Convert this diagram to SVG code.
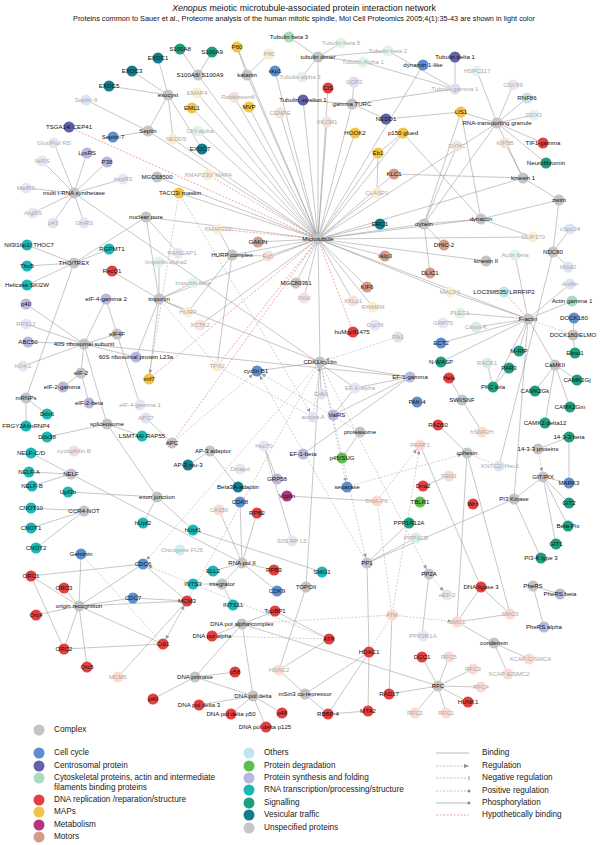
<svg xmlns="http://www.w3.org/2000/svg" width="600" height="845" viewBox="0 0 600 845">
<defs>
<style>
text{font-family:"Liberation Sans",Arial,sans-serif}
.e{stroke:#8e8e8e;stroke-width:.5;fill:none}
.d{stroke:#a0a0a0;stroke-width:.5;stroke-dasharray:2 1.5;fill:none}
.h{stroke:#e06060;stroke-width:.55;stroke-dasharray:2 1.5;fill:none}
.r{marker-end:url(#arr)}
.n text{font-size:6.1px;text-anchor:middle;fill:#111}
.n.L text{fill:#a8a8a8}
.cx circle,.un circle{fill:#c4c4c4}
.cc circle{fill:#5d8fcf}.cc.L circle{fill:#dce5f3}
.ce circle{fill:#6262aa}.ce.L circle{fill:#dedef0}
.cy circle{fill:#a8dcc0}.cy.L circle{fill:#e2f3e8}
.dn circle{fill:#e2403f}.dn.L circle{fill:#fadad1}
.mp circle{fill:#f2c443}.mp.L circle{fill:#fbeed2}
.me circle{fill:#b8347a}.me.L circle{fill:#f4dbe6}
.mo circle{fill:#d39c8a}.mo.L circle{fill:#f4e3dc}
.ot circle{fill:#bfe6ec}.ot.L circle{fill:#e4f5f7}
.pd circle{fill:#5cbf4e}
.ps circle{fill:#b8b8de}.ps.L circle{fill:#e6e6f5}
.rn circle{fill:#1bb6b6}.rn.L circle{fill:#d2efef}
.sg circle{fill:#1d9e7c}.sg.L circle{fill:#d8ede5}
.ve circle{fill:#137c8e}
.lg text{font-size:8.2px;fill:#222;dominant-baseline:middle}
</style>
<marker id="arr" markerUnits="userSpaceOnUse" markerWidth="4" markerHeight="4" viewBox="0 0 4 4" refX="9.5" refY="2" orient="auto"><path d="M0 0L4 2L0 4z" fill="#9a9a9a"/></marker>
<marker id="arrL" markerUnits="userSpaceOnUse" markerWidth="5" markerHeight="4" viewBox="0 0 5 4" refX="5" refY="2" orient="auto"><path d="M0 0L5 2L0 4z" fill="#8a8a8a"/></marker>
<marker id="bar" markerUnits="userSpaceOnUse" markerWidth="2" markerHeight="5" viewBox="0 0 2 5" refX="1" refY="2.5" orient="auto"><path d="M1 0V5" stroke="#8a8a8a" stroke-width=".8"/></marker>
<marker id="dot" markerUnits="userSpaceOnUse" markerWidth="4" markerHeight="4" viewBox="0 0 4 4" refX="2" refY="2" orient="auto"><circle cx="2" cy="2" r="1.5" fill="#8a8a8a"/></marker>
</defs>
<rect width="600" height="845" fill="#fff"/>
<text x="304" y="11" text-anchor="middle" font-size="8.8" fill="#111"><tspan font-style="italic">Xenopus</tspan> meiotic microtubule-associated protein interaction network</text>
<text x="304" y="21" text-anchor="middle" font-size="6.3" fill="#111" textLength="462" lengthAdjust="spacingAndGlyphs">Proteins common to Sauer et al., Proteome analysis of the human mitotic spindle, Mol Cell Proteomics 2005;4(1):35-43 are shown in light color</text>
<g id="connectors">
<path class="e" d="M180 49L198 75M212 52L198 75M158 58L168 95M132 71L168 95M109 86L168 95M202 149L168 95M168 95L148 131M168 95L173 139M86 100L148 131M113 137L148 131M148 131L318 239M173 139L318 239"/>
<path class="e" d="M54 143L74 193M42 161L74 193M87 153L74 193M107 162L74 193M123 179L74 193M26 188L74 193M33 213L74 193M53 223L74 193M84 223L74 193M74 193L355 388"/>
<path class="e" d="M198 75L318 239M197 93L318 239M192 108L318 239M198 131L318 239M157 177L318 239M179 193L318 239M146 217L159 299M146 217L74 263M146 217L318 239M146 217L178 253"/>
<path class="e" d="M289 37L318 57M341 43L318 57M388 51L318 57M363 62L318 57M302 77L318 57M318 57L318 239M237 47L247 75M269 54L247 75M247 75L318 239M275 71L318 239M237 47L318 239M234 97L318 239M249 107L318 239M280 113L318 239M303 100L318 239M327 122L318 239M328 88L318 239"/>
<path class="e" d="M354 82L352 104M455 89L352 104M386 119L352 104M352 104L318 239M303 100L352 104M355 133L318 239M378 153L318 239M403 133L378 153M403 133L481 219M403 133L318 239M377 193L318 239M377 193L378 153M380 224L318 239M394 174L523 178M394 174L318 239M505 143L523 178M523 178L318 239M423 65L318 239M455 57L455 89M455 89L363 62M455 89L388 51"/>
<path class="e" d="M477 71L497 123M513 85L497 123M527 98L497 123M534 115L497 123M497 123L543 143M497 123L546 163M497 123L523 178M497 123L461 112M497 123L424 224M497 123L318 239M461 112L424 224M461 112L481 219M461 112L386 119M457 146L424 224M444 245L424 224M430 273L424 224M424 224L481 219M424 224L318 239M481 219L318 239M481 219L559 200M523 178L559 200M559 200L553 252M553 252L570 229M553 252L568 267M553 252L499 466M481 219L533 237M533 237L318 239M486 261L318 239"/>
<path class="e" d="M515 255L528 319M572 301L528 319M570 284L528 319M450 292L528 319M450 292L318 239M460 313L528 319M476 327L528 319M519 351L528 319M441 362L528 319M441 343L528 319M528 319L318 239M528 319L555 365M528 319L493 387M528 319L514 499M574 318L573 335M575 353L573 335M577 380L555 365M535 391L555 365M570 407L555 365M545 423L555 365M569 437L538 449M569 437L569 483M509 368L493 387M487 363L493 387M462 400L482 432M462 400L449 378"/>
<path class="e" d="M467 453L457 622M467 453L510 614M467 453L438 425M494 643L508 674M494 643L529 659M494 643L457 622M457 622L510 614M543 477L569 503M543 477L568 526M543 477L556 544M543 477L569 483M543 477L514 499M514 499L541 558M514 499L367 563M533 586L560 594M533 586L544 627"/>
<path class="e" d="M415 713L438 686M446 713L438 686M473 669L438 686M481 687L438 686M449 657L438 686M389 694L438 686M422 657L438 686M468 702L438 686M429 574L422 635M367 563L416 538M367 563L409 523M367 563L369 652M369 652L305 694M279 670L305 694M328 714L305 694M369 652L368 711M369 652L328 714M328 714L368 711M389 694L392 615M242 624L438 686M329 639L275 611M329 639L279 670"/>
<path class="e" d="M242 624L212 636M242 624L195 677M242 624L253 696M242 624L275 611M195 677L235 672M195 677L153 699M195 677L253 696M199 705L253 696M231 714L253 696M282 713L253 696M266 727L253 696M306 587L279 670M306 587L320 362"/>
<path class="e" d="M240 502L242 563M257 513L242 563M219 510L242 563M213 571L242 563M274 570L242 563M277 591L242 563M222 584L242 563M222 584L233 605M222 584L193 584M210 451L188 465M210 451L238 487M68 492L157 497M143 523L157 497M193 530L157 497M193 530L322 572M31 508L84 511M31 528L84 511M36 548L84 511M31 453L71 474M29 472L71 474M32 486L71 474M71 474L242 563"/>
<path class="e" d="M31 576L79 606M64 588L79 606M36 615L79 606M64 649L79 606M87 667L79 606M143 564L79 606M133 598L79 606M81 554L79 606M163 644L79 606M187 601L79 606M31 576L143 564M31 576L64 649M64 649L163 644M143 564L187 601M133 598L187 601M187 601L118 677"/>
<path class="e" d="M26 398L47 414M26 398L26 426M26 398L74 263M107 424L142 436M107 424L47 437M107 424L84 344M107 424L157 497M63 387L81 373M89 403L81 373M81 373L84 344M26 304L84 344M26 324L84 344M28 342L84 344M23 366L84 344M84 344L117 334M84 344L136 357M117 334L106 299M117 334L140 405M106 299L84 344M27 245L74 263M27 266L74 263M27 285L74 263M109 249L74 263"/>
<path class="e" d="M112 271L159 299M159 299L159 262M159 299L193 283M159 299L318 239M159 299L149 379M159 299L188 312M159 299L320 362M159 299L136 357M84 344L410 377M232 255L218 229M232 255L268 256M232 255L188 312M232 255L217 366M232 255L318 239M258 242L318 239M268 256L318 239M385 256L318 239M296 283L318 239M367 287L318 239M304 298L318 239M353 301L318 239M373 307L318 239M200 325L318 239M320 362L318 239"/>
<path class="e" d="M257 371L320 362M321 394L320 362M320 362L410 377M355 388L410 377M303 454L410 377M410 377L333 415M355 388L333 415M360 432L342 458M172 443L146 418M287 496L377 501M423 486L449 476M481 587L457 622M481 587L420 445M481 587L510 614M264 446L292 541M277 479L264 446"/>
<path class="d r" d="M179 193L149 379"/>
<path class="d" d="M159 299L217 366M392 615L369 652M81 554L163 644M313 417L217 366M499 466L467 453M573 335L528 319M329 639L212 636M377 501L392 615"/>
<path class="d r" d="M320 362L367 563"/><path class="d r" d="M320 362L429 574"/><path class="d r" d="M320 362L347 487"/><path class="d r" d="M320 362L143 564"/><path class="d r" d="M320 362L163 644"/>
<path class="d r" d="M392 615L242 624"/><path class="d r" d="M392 615L457 622"/><path class="d r" d="M392 615L420 445"/><path class="d r" d="M163 644L187 601"/><path class="d r" d="M377 501L420 445"/>
<path class="d r" d="M367 563L257 371"/><path class="d r" d="M313 417L320 362"/><path class="d r" d="M179 193L313 417"/><path class="d r" d="M398 337L320 362"/><path class="d r" d="M538 449L543 477"/>
<path class="d r" d="M172 443L257 371"/><path class="d r" d="M347 487L467 453"/><path class="d r" d="M329 639L143 564"/><path class="d r" d="M429 574L447 595"/><path class="d r" d="M360 432L257 371"/>
<path class="h" d="M69 127L318 239M318 239L353 332M318 239L149 379M318 239L172 443M318 239L217 366M208 175L318 239M504 292L528 319M218 229L318 239"/>
</g>
<g id="nodes">
<g id="s100a8" class="n sg"><circle cx="180" cy="49" r="5.5"/><text x="180" y="51">S100A8</text></g>
<g id="s100a9" class="n sg"><circle cx="212" cy="52" r="5.5"/><text x="212" y="54">S100A9</text></g>
<g id="s100a8-a9" class="n cx"><circle cx="198" cy="75" r="5.5"/><text x="200" y="77">S100A8/ S100A9</text></g>
<g id="exoc1" class="n ve"><circle cx="158" cy="58" r="5.5"/><text x="158" y="60">EXOC1</text></g>
<g id="exoc3" class="n ve"><circle cx="132" cy="71" r="5.5"/><text x="132" y="73">EXOC3</text></g>
<g id="exoc5" class="n ve"><circle cx="109" cy="86" r="5.5"/><text x="109" y="88">EXOC5</text></g>
<g id="exocyst" class="n cx"><circle cx="168" cy="95" r="5.5"/><text x="168" y="97">exocyst</text></g>
<g id="emap4" class="n mp L"><circle cx="197" cy="93" r="5.5"/><text x="197" y="95">EMAP4</text></g>
<g id="eml1" class="n mp"><circle cx="192" cy="108" r="5.5"/><text x="192" y="110">EML1</text></g>
<g id="septin9" class="n cc L"><circle cx="86" cy="100" r="5.5"/><text x="86" y="102">Septin-9</text></g>
<g id="tsga14" class="n ce"><circle cx="69" cy="127" r="5.5"/><text x="69" y="129">TSGA14/ CEP41</text></g>
<g id="septin" class="n cx"><circle cx="148" cy="131" r="5.5"/><text x="148" y="133">Septin</text></g>
<g id="septin7" class="n cc"><circle cx="113" cy="137" r="5.5"/><text x="113" y="139">Septin-7</text></g>
<g id="nedd5" class="n mp L"><circle cx="173" cy="139" r="5.5"/><text x="176" y="141">NEDD5</text></g>
<g id="ckialpha" class="n cy L"><circle cx="198" cy="131" r="5.5"/><text x="200" y="133">CKI-alpha</text></g>
<g id="exoc7" class="n ve"><circle cx="202" cy="149" r="5.5"/><text x="200" y="151">EXOC7</text></g>
<g id="glutprolrs" class="n ps L"><circle cx="54" cy="143" r="5.5"/><text x="54" y="145">Glut/Prol RS</text></g>
<g id="ilers" class="n ps L"><circle cx="42" cy="161" r="5.5"/><text x="42" y="163">IleRS</text></g>
<g id="lysrs" class="n ps"><circle cx="87" cy="153" r="5.5"/><text x="87" y="155">LysRS</text></g>
<g id="p38" class="n ps"><circle cx="107" cy="162" r="5.5"/><text x="107" y="164">P38</text></g>
<g id="asprs" class="n ps L"><circle cx="123" cy="179" r="5.5"/><text x="123" y="181">AspRS</text></g>
<g id="metrs" class="n ps L"><circle cx="26" cy="188" r="5.5"/><text x="26" y="190">MetRS</text></g>
<g id="multitrna" class="n cx"><circle cx="74" cy="193" r="5.5"/><text x="74" y="195">multi t-RNA synthetase</text></g>
<g id="argrs" class="n ps L"><circle cx="33" cy="213" r="5.5"/><text x="33" y="215">ArgRS</text></g>
<g id="p43" class="n ps L"><circle cx="53" cy="223" r="5.5"/><text x="53" y="225">p43</text></g>
<g id="glnrs" class="n ps L"><circle cx="84" cy="223" r="5.5"/><text x="84" y="225">GlnRS</text></g>
<g id="mgc68500" class="n cx"><circle cx="157" cy="177" r="5.5"/><text x="157" y="179">MGC68500</text></g>
<g id="xmap230" class="n mp L"><circle cx="208" cy="175" r="5.5"/><text x="208" y="177">XMAP230/ MAP4</text></g>
<g id="tacc3" class="n mp"><circle cx="179" cy="193" r="5.5"/><text x="180" y="195">TACC3/ maskin</text></g>
<g id="nuclearpore" class="n cx"><circle cx="146" cy="217" r="5.5"/><text x="146" y="219">nuclear pore</text></g>
<g id="tubb3" class="n cy"><circle cx="289" cy="37" r="5.5"/><text x="289" y="39">Tubulin beta 3</text></g>
<g id="p60" class="n mp"><circle cx="237" cy="47" r="5.5"/><text x="237" y="49">P60</text></g>
<g id="p80" class="n mp L"><circle cx="269" cy="54" r="5.5"/><text x="269" y="56">P80</text></g>
<g id="tubb5" class="n cy L"><circle cx="341" cy="43" r="5.5"/><text x="341" y="45">Tubulin beta 5</text></g>
<g id="tubulindimer" class="n cx"><circle cx="318" cy="57" r="5.5"/><text x="318" y="59">tubulin dimer</text></g>
<g id="tubb2" class="n cy L"><circle cx="388" cy="51" r="5.5"/><text x="388" y="53">Tubulin beta 2</text></g>
<g id="tuba1" class="n cy L"><circle cx="363" cy="62" r="5.5"/><text x="363" y="64">Tubulin Alpha 1</text></g>
<g id="katanin" class="n cx"><circle cx="247" cy="75" r="5.5"/><text x="247" y="77">katanin</text></g>
<g id="skp1" class="n cc"><circle cx="275" cy="71" r="5.5"/><text x="275" y="73">skp1</text></g>
<g id="tuba3" class="n cy L"><circle cx="302" cy="77" r="5.5"/><text x="300" y="79">Tubulin alpha 3</text></g>
<g id="gcp2" class="n ce L"><circle cx="354" cy="82" r="5.5"/><text x="354" y="84">GCP2</text></g>
<g id="cis" class="n dn"><circle cx="328" cy="88" r="5.5"/><text x="328" y="90">CIS</text></g>
<g id="rabkinesin6" class="n mo L"><circle cx="234" cy="97" r="5.5"/><text x="238" y="99">Rabkinesin6</text></g>
<g id="mvp" class="n mp"><circle cx="249" cy="107" r="5.5"/><text x="249" y="109">MVP</text></g>
<g id="cenpe" class="n mo L"><circle cx="280" cy="113" r="5.5"/><text x="280" y="115">CENPE</text></g>
<g id="tube1" class="n ce"><circle cx="303" cy="100" r="5.5"/><text x="303" y="102">Tubulin, epsilon 1</text></g>
<g id="gammaturc" class="n cx"><circle cx="352" cy="104" r="5.5"/><text x="352" y="106">gamma TURC</text></g>
<g id="xkcm1" class="n mo L"><circle cx="327" cy="122" r="5.5"/><text x="327" y="124">XKCM1</text></g>
<g id="nedd1" class="n ce"><circle cx="386" cy="119" r="5.5"/><text x="386" y="121">NEDD1</text></g>
<g id="hook2" class="n mp"><circle cx="355" cy="133" r="5.5"/><text x="355" y="135">HOOK2</text></g>
<g id="p150glued" class="n mp"><circle cx="403" cy="133" r="5.5"/><text x="403" y="135">p150 glued</text></g>
<g id="eb1" class="n mp"><circle cx="378" cy="153" r="5.5"/><text x="378" y="155">Eb1</text></g>
<g id="klc1" class="n mo"><circle cx="394" cy="174" r="5.5"/><text x="394" y="176">KLC1</text></g>
<g id="clasp1" class="n mp L"><circle cx="377" cy="193" r="5.5"/><text x="377" y="195">CLASP1</text></g>
<g id="erc1" class="n ve"><circle cx="380" cy="224" r="5.5"/><text x="380" y="226">ERC1</text></g>
<g id="tubd1" class="n ce"><circle cx="455" cy="57" r="5.5"/><text x="455" y="59">Tubulin delta 1</text></g>
<g id="dynamin1l" class="n cc"><circle cx="423" cy="65" r="5.5"/><text x="423" y="67">dynamin 1-like</text></g>
<g id="hspc117" class="n ot L"><circle cx="477" cy="71" r="5.5"/><text x="477" y="73">HSPC117</text></g>
<g id="tubg1" class="n ce L"><circle cx="455" cy="89" r="5.5"/><text x="455" y="91">Tubulin gamma 1</text></g>
<g id="cgi99" class="n ps L"><circle cx="513" cy="85" r="5.5"/><text x="513" y="87">CGI-99</text></g>
<g id="rnf86" class="n ot"><circle cx="527" cy="98" r="5.5"/><text x="527" y="100">RNF86</text></g>
<g id="lis1" class="n mp"><circle cx="461" cy="112" r="5.5"/><text x="461" y="114">LIS1</text></g>
<g id="ddx1" class="n ot L"><circle cx="534" cy="115" r="5.5"/><text x="534" y="117">DDX1</text></g>
<g id="rnagranule" class="n cx"><circle cx="497" cy="123" r="5.5"/><text x="497" y="125">RNA-transporting granule</text></g>
<g id="dyhc" class="n mo L"><circle cx="457" cy="146" r="5.5"/><text x="457" y="148">DYHC</text></g>
<g id="kif5b" class="n mo L"><circle cx="505" cy="143" r="5.5"/><text x="505" y="145">KIF5B</text></g>
<g id="tif1gamma" class="n dn"><circle cx="543" cy="143" r="5.5"/><text x="543" y="145">TIF1-gamma</text></g>
<g id="neurofibromin" class="n sg"><circle cx="546" cy="163" r="5.5"/><text x="546" y="165">Neurofibromin</text></g>
<g id="kinesin1" class="n cx"><circle cx="523" cy="178" r="5.5"/><text x="523" y="180">kinesin 1</text></g>
<g id="zwint" class="n cx"><circle cx="559" cy="200" r="5.5"/><text x="559" y="202">zwint</text></g>
<g id="dynein" class="n cx"><circle cx="424" cy="224" r="5.5"/><text x="424" y="226">dynein</text></g>
<g id="dynactin" class="n cx"><circle cx="481" cy="219" r="5.5"/><text x="481" y="221">dynactin</text></g>
<g id="xspc24" class="n cc L"><circle cx="570" cy="229" r="5.5"/><text x="570" y="231">xSpc24</text></g>
<g id="nif3" class="n rn"><circle cx="27" cy="245" r="5.5"/><text x="29" y="247">Nif3l1bp1/ THOC7</text></g>
<g id="rgpmt1" class="n rn"><circle cx="109" cy="249" r="5.5"/><text x="112" y="251">RGPMT1</text></g>
<g id="rangap1" class="n ps L"><circle cx="178" cy="253" r="5.5"/><text x="182" y="255">RANGAP1</text></g>
<g id="thotrex" class="n cx"><circle cx="74" cy="263" r="5.5"/><text x="74" y="265">THO/TREX</text></g>
<g id="tho5" class="n rn"><circle cx="27" cy="266" r="5.5"/><text x="27" y="268">Tho5</text></g>
<g id="importinalpha2" class="n cy L"><circle cx="159" cy="262" r="5.5"/><text x="166" y="264">Importin alpha2</text></g>
<g id="recq1" class="n dn"><circle cx="112" cy="271" r="5.5"/><text x="112" y="273">RecQ1</text></g>
<g id="importinbeta" class="n cy L"><circle cx="193" cy="283" r="5.5"/><text x="193" y="285">Importin beta</text></g>
<g id="helicase" class="n rn"><circle cx="27" cy="285" r="5.5"/><text x="27" y="287">Helicase SKI2W</text></g>
<g id="p40" class="n ps"><circle cx="26" cy="304" r="5.5"/><text x="26" y="306">p40</text></g>
<g id="eif4g2" class="n ps"><circle cx="106" cy="299" r="5.5"/><text x="106" y="301">eIF-4-gamma 2</text></g>
<g id="importin" class="n cx"><circle cx="159" cy="299" r="5.5"/><text x="159" y="301">importin</text></g>
<g id="hurp" class="n mp L"><circle cx="188" cy="312" r="5.5"/><text x="188" y="314">HURP</text></g>
<g id="xctk2" class="n mo L"><circle cx="200" cy="325" r="5.5"/><text x="200" y="327">XCTK2</text></g>
<g id="rps12" class="n ps L"><circle cx="26" cy="324" r="5.5"/><text x="26" y="326">RPS12</text></g>
<g id="eif4f" class="n cx"><circle cx="117" cy="334" r="5.5"/><text x="117" y="336">eIF4F</text></g>
<g id="abc50" class="n ps"><circle cx="28" cy="342" r="5.5"/><text x="28" y="344">ABC50</text></g>
<g id="ribo40s" class="n cx"><circle cx="84" cy="344" r="5.5"/><text x="84" y="346">40S ribosomal subunit</text></g>
<g id="rpl23a" class="n ps"><circle cx="136" cy="357" r="5.5"/><text x="136" y="359">60S ribosomal protein L23a</text></g>
<g id="hg41" class="n ps L"><circle cx="23" cy="366" r="5.5"/><text x="23" y="368">hG4-1</text></g>
<g id="eif2" class="n cx"><circle cx="81" cy="373" r="5.5"/><text x="81" y="375">eIF-2</text></g>
<g id="xnf7" class="n mp"><circle cx="149" cy="379" r="5.5"/><text x="149" y="381">xnf7</text></g>
<g id="eif2gamma" class="n ps"><circle cx="63" cy="387" r="5.5"/><text x="62" y="389">eIF-2-gamma</text></g>
<g id="mrnps" class="n cx"><circle cx="26" cy="398" r="5.5"/><text x="26" y="400">mRNPs</text></g>
<g id="eif2beta" class="n ps"><circle cx="89" cy="403" r="5.5"/><text x="89" y="405">eIF-2-beta</text></g>
<g id="eif4g1" class="n ps L"><circle cx="140" cy="405" r="5.5"/><text x="140" y="407">eIF-4-gamma 1</text></g>
<g id="ddx6" class="n rn"><circle cx="47" cy="414" r="5.5"/><text x="47" y="416">Ddx6</text></g>
<g id="apc7" class="n cc L"><circle cx="146" cy="418" r="5.5"/><text x="146" y="420">APC7</text></g>
<g id="spliceosome" class="n cx"><circle cx="107" cy="424" r="5.5"/><text x="107" y="426">spliceosome</text></g>
<g id="frgy2a" class="n rn"><circle cx="26" cy="426" r="5.5"/><text x="26" y="428">FRGY2A/mRNP4</text></g>
<g id="lsmt4a" class="n rn"><circle cx="142" cy="436" r="5.5"/><text x="142" y="438">LSMT4A/ RAP55</text></g>
<g id="ddx38" class="n rn"><circle cx="47" cy="437" r="5.5"/><text x="47" y="439">Ddx38</text></g>
<g id="apc" class="n cx"><circle cx="172" cy="443" r="5.5"/><text x="172" y="445">APC</text></g>
<g id="xmap215" class="n mp L"><circle cx="218" cy="229" r="5.5"/><text x="218" y="231">XMAP215</text></g>
<g id="microtubule" class="n cx"><circle cx="318" cy="239" r="5.5"/><text x="318" y="241">Microtubule</text></g>
<g id="gakin" class="n mo"><circle cx="258" cy="242" r="5.5"/><text x="258" y="244">GAKIN</text></g>
<g id="hurpcomplex" class="n cx"><circle cx="232" cy="255" r="5.5"/><text x="232" y="257">HURP complex</text></g>
<g id="eg5" class="n mo L"><circle cx="268" cy="256" r="5.5"/><text x="268" y="258">Eg5</text></g>
<g id="xklp3" class="n mo"><circle cx="385" cy="256" r="5.5"/><text x="385" y="258">xklp3</text></g>
<g id="mgc80361" class="n cx"><circle cx="296" cy="283" r="5.5"/><text x="296" y="285">MGC80361</text></g>
<g id="kif6" class="n mo"><circle cx="367" cy="287" r="5.5"/><text x="367" y="289">KIF6</text></g>
<g id="xkid" class="n mo L"><circle cx="304" cy="298" r="5.5"/><text x="304" y="300">XKid</text></g>
<g id="xklp1" class="n mo L"><circle cx="353" cy="301" r="5.5"/><text x="353" y="303">XKLp1</text></g>
<g id="rhamm" class="n mp L"><circle cx="373" cy="307" r="5.5"/><text x="373" y="309">RHAMM</text></g>
<g id="grp78" class="n ps L"><circle cx="375" cy="325" r="5.5"/><text x="375" y="327">Grp78</text></g>
<g id="humgc81475" class="n dn"><circle cx="353" cy="332" r="5.5"/><text x="352" y="334">huMgc81475</text></g>
<g id="plk1" class="n cc L"><circle cx="398" cy="337" r="5.5"/><text x="398" y="339">Plk1</text></g>
<g id="tpx2" class="n mp L"><circle cx="217" cy="366" r="5.5"/><text x="217" y="368">TPX2</text></g>
<g id="cyclinb1" class="n cc"><circle cx="257" cy="371" r="5.5"/><text x="256" y="373">cyclin B1</text></g>
<g id="cdk1cyclin" class="n cx"><circle cx="320" cy="362" r="5.5"/><text x="320" y="364">CDK1/cyclin</text></g>
<g id="ef1alpha" class="n ps L"><circle cx="355" cy="388" r="5.5"/><text x="360" y="390">EF-1-alpha</text></g>
<g id="ef1gamma" class="n ps"><circle cx="410" cy="377" r="5.5"/><text x="410" y="379">EF-1-gamma</text></g>
<g id="cdk1" class="n cc L"><circle cx="321" cy="394" r="5.5"/><text x="321" y="396">Cdk1</text></g>
<g id="auroraa" class="n cc L"><circle cx="313" cy="417" r="5.5"/><text x="313" y="419">aurora A</text></g>
<g id="valrs" class="n ps"><circle cx="333" cy="415" r="5.5"/><text x="337" y="417">ValRS</text></g>
<g id="proteasome" class="n cx"><circle cx="360" cy="432" r="5.5"/><text x="360" y="434">proteasome</text></g>
<g id="hsc70" class="n ps L"><circle cx="264" cy="446" r="5.5"/><text x="264" y="448">Hsc70</text></g>
<g id="ap3adaptor" class="n cx"><circle cx="210" cy="451" r="5.5"/><text x="213" y="453">AP-3 adaptor</text></g>
<g id="dhic2" class="n mo"><circle cx="444" cy="245" r="5.5"/><text x="444" y="247">DHIC-2</text></g>
<g id="clip170" class="n mp L"><circle cx="533" cy="237" r="5.5"/><text x="533" y="239">CLIP170</text></g>
<g id="actinbeta" class="n cy L"><circle cx="515" cy="255" r="5.5"/><text x="515" y="257">Actin beta</text></g>
<g id="ndc80" class="n cx"><circle cx="553" cy="252" r="5.5"/><text x="553" y="254">NDC80</text></g>
<g id="kinesin2" class="n cx"><circle cx="486" cy="261" r="5.5"/><text x="486" y="263">kinesin II</text></g>
<g id="hnuf2" class="n cc L"><circle cx="568" cy="267" r="5.5"/><text x="568" y="269">hNuf2</text></g>
<g id="dlic1" class="n mo"><circle cx="430" cy="273" r="5.5"/><text x="430" y="275">DLIC1</text></g>
<g id="anillin" class="n cc L"><circle cx="570" cy="284" r="5.5"/><text x="570" y="286">Anillin</text></g>
<g id="macf1" class="n mp L"><circle cx="450" cy="292" r="5.5"/><text x="450" y="294">MACF1</text></g>
<g id="lrrfip2" class="n ot"><circle cx="504" cy="292" r="5.5"/><text x="504" y="294">LOC398535/ LRRFIP2</text></g>
<g id="actingamma1" class="n cy"><circle cx="572" cy="301" r="5.5"/><text x="572" y="303">Actin gamma 1</text></g>
<g id="plec1" class="n cy L"><circle cx="460" cy="313" r="5.5"/><text x="460" y="315">PLEC1</text></g>
<g id="factin" class="n cx"><circle cx="528" cy="319" r="5.5"/><text x="528" y="321">F-actin</text></g>
<g id="dock180" class="n cc"><circle cx="574" cy="318" r="5.5"/><text x="574" y="320">DOCK180</text></g>
<g id="grp75" class="n ps L"><circle cx="443" cy="323" r="5.5"/><text x="443" y="325">GRP75</text></g>
<g id="citronk" class="n sg L"><circle cx="476" cy="327" r="5.5"/><text x="476" y="329">Citron-K</text></g>
<g id="dock180elmo" class="n cx"><circle cx="573" cy="335" r="5.5"/><text x="573" y="337">DOCK180/ELMO</text></g>
<g id="ect2" class="n cc"><circle cx="441" cy="343" r="5.5"/><text x="441" y="345">ECT2</text></g>
<g id="mrip" class="n sg"><circle cx="519" cy="351" r="5.5"/><text x="519" y="353">M-RIP</text></g>
<g id="elmo1" class="n sg"><circle cx="575" cy="353" r="5.5"/><text x="575" y="355">Elmo1</text></g>
<g id="nwasp" class="n sg"><circle cx="441" cy="362" r="5.5"/><text x="441" y="364">N-WASP</text></g>
<g id="rack1" class="n sg L"><circle cx="487" cy="363" r="5.5"/><text x="487" y="365">RACK1</text></g>
<g id="camkii" class="n cx"><circle cx="555" cy="365" r="5.5"/><text x="555" y="367">CaMKII</text></g>
<g id="par3" class="n sg"><circle cx="509" cy="368" r="5.5"/><text x="509" y="370">PAR3</text></g>
<g id="hels" class="n dn"><circle cx="449" cy="378" r="5.5"/><text x="449" y="380">Hels</text></g>
<g id="camk2gj" class="n sg"><circle cx="577" cy="380" r="5.5"/><text x="577" y="382">CAMK2Gj</text></g>
<g id="pkciota" class="n sg"><circle cx="493" cy="387" r="5.5"/><text x="493" y="389">PKC iota</text></g>
<g id="camk2gk" class="n sg"><circle cx="535" cy="391" r="5.5"/><text x="535" y="393">CAMK2Gk</text></g>
<g id="pak4" class="n cc"><circle cx="417" cy="402" r="5.5"/><text x="417" y="404">PAK-4</text></g>
<g id="swisnf" class="n cx"><circle cx="462" cy="400" r="5.5"/><text x="462" y="402">SWI/SNF</text></g>
<g id="camk2gm" class="n sg"><circle cx="570" cy="407" r="5.5"/><text x="570" y="409">CAMK2Gm</text></g>
<g id="rad50" class="n dn"><circle cx="438" cy="425" r="5.5"/><text x="438" y="427">RAD50</text></g>
<g id="hsnf2h" class="n dn L"><circle cx="482" cy="432" r="5.5"/><text x="482" y="434">hSNF2H</text></g>
<g id="camk2d12" class="n sg"><circle cx="545" cy="423" r="5.5"/><text x="545" y="425">CAMK2 delta12</text></g>
<g id="ywhab" class="n sg"><circle cx="569" cy="437" r="5.5"/><text x="569" y="439">14-3-3 beta</text></g>
<g id="parp1" class="n dn L"><circle cx="420" cy="445" r="5.5"/><text x="420" y="447">PARP1</text></g>
<g id="ywhaproteins" class="n cx"><circle cx="538" cy="449" r="5.5"/><text x="538" y="451">14-3-3 proteins</text></g>
<g id="cyclophilinb" class="n me L"><circle cx="74" cy="451" r="5.5"/><text x="74" y="453">cyclophilin B</text></g>
<g id="ap3mu3" class="n ve"><circle cx="188" cy="465" r="5.5"/><text x="188" y="467">AP-3 mu-3</text></g>
<g id="nelfcd" class="n rn"><circle cx="31" cy="453" r="5.5"/><text x="31" y="455">NELF-C/D</text></g>
<g id="nelfa" class="n rn"><circle cx="29" cy="472" r="5.5"/><text x="29" y="474">NELF-A</text></g>
<g id="nelf" class="n cx"><circle cx="71" cy="474" r="5.5"/><text x="71" y="476">NELF</text></g>
<g id="nelfb" class="n rn"><circle cx="32" cy="486" r="5.5"/><text x="32" y="488">NELF-B</text></g>
<g id="upf3b" class="n rn"><circle cx="68" cy="492" r="5.5"/><text x="68" y="494">Upf3b</text></g>
<g id="exonjunction" class="n cx"><circle cx="157" cy="497" r="5.5"/><text x="157" y="499">exon junction</text></g>
<g id="cnot10" class="n rn"><circle cx="31" cy="508" r="5.5"/><text x="31" y="510">CNOT10</text></g>
<g id="ccr4not" class="n cx"><circle cx="84" cy="511" r="5.5"/><text x="84" y="513">CCR4-NOT</text></g>
<g id="hupf2" class="n rn"><circle cx="143" cy="523" r="5.5"/><text x="143" y="525">hUpf2</text></g>
<g id="hupf1" class="n rn"><circle cx="193" cy="530" r="5.5"/><text x="193" y="532">hUpf1</text></g>
<g id="cnot1" class="n rn"><circle cx="31" cy="528" r="5.5"/><text x="31" y="530">CNOT1</text></g>
<g id="cnot2" class="n rn"><circle cx="36" cy="548" r="5.5"/><text x="36" y="550">CNOT2</text></g>
<g id="fus" class="n rn L"><circle cx="180" cy="550" r="5.5"/><text x="182" y="552">Oncogene FUS</text></g>
<g id="geminin" class="n cc"><circle cx="81" cy="554" r="5.5"/><text x="81" y="556">Geminin</text></g>
<g id="cdc6" class="n cc"><circle cx="143" cy="564" r="5.5"/><text x="143" y="566">CDC6</text></g>
<g id="orc1" class="n dn"><circle cx="31" cy="576" r="5.5"/><text x="31" y="578">ORC1</text></g>
<g id="orc3" class="n dn"><circle cx="64" cy="588" r="5.5"/><text x="64" y="590">ORC3</text></g>
<g id="ints3" class="n rn"><circle cx="193" cy="584" r="5.5"/><text x="193" y="586">INTS3</text></g>
<g id="cdc7" class="n cc"><circle cx="133" cy="598" r="5.5"/><text x="133" y="600">CDC7</text></g>
<g id="originrecognition" class="n cx"><circle cx="79" cy="606" r="5.5"/><text x="79" y="608">origin recognition</text></g>
<g id="mcm3" class="n dn"><circle cx="187" cy="601" r="5.5"/><text x="187" y="603">MCM3</text></g>
<g id="orc4" class="n dn"><circle cx="36" cy="615" r="5.5"/><text x="36" y="617">Orc4</text></g>
<g id="cdt1" class="n dn"><circle cx="163" cy="644" r="5.5"/><text x="163" y="646">Cdt1</text></g>
<g id="orc2" class="n dn"><circle cx="64" cy="649" r="5.5"/><text x="64" y="651">ORC2</text></g>
<g id="orc5" class="n dn"><circle cx="87" cy="667" r="5.5"/><text x="87" y="669">Orc5</text></g>
<g id="mcm5" class="n dn L"><circle cx="118" cy="677" r="5.5"/><text x="118" y="679">MCM5</text></g>
<g id="dnapolalpha" class="n dn"><circle cx="212" cy="636" r="5.5"/><text x="212" y="638">DNA pol alpha</text></g>
<g id="ef1beta" class="n ps"><circle cx="303" cy="454" r="5.5"/><text x="303" y="456">EF-1-beta</text></g>
<g id="p45sug" class="n pd"><circle cx="342" cy="458" r="5.5"/><text x="342" y="460">p45/SUG</text></g>
<g id="dmapd" class="n ps L"><circle cx="240" cy="469" r="5.5"/><text x="240" y="471">Dmapd</text></g>
<g id="grp58" class="n ps"><circle cx="277" cy="479" r="5.5"/><text x="277" y="481">GRP58</text></g>
<g id="beta3a" class="n ve"><circle cx="238" cy="487" r="5.5"/><text x="238" y="489">Beta3A-adaptin</text></g>
<g id="separase" class="n cc"><circle cx="347" cy="487" r="5.5"/><text x="347" y="489">separase</text></g>
<g id="vigilin" class="n me"><circle cx="287" cy="496" r="5.5"/><text x="287" y="498">Vigilin</text></g>
<g id="cdk8" class="n cc"><circle cx="240" cy="502" r="5.5"/><text x="240" y="504">CDK8</text></g>
<g id="dnapk" class="n dn L"><circle cx="377" cy="501" r="5.5"/><text x="377" y="503">DNA-PK</text></g>
<g id="ca150" class="n dn L"><circle cx="219" cy="510" r="5.5"/><text x="219" y="512">CA150</text></g>
<g id="rpb2" class="n dn"><circle cx="257" cy="513" r="5.5"/><text x="257" y="515">RPB2</text></g>
<g id="rpl5" class="n ps L"><circle cx="292" cy="541" r="5.5"/><text x="292" y="543">60S RP L5</text></g>
<g id="pp1" class="n cx"><circle cx="367" cy="563" r="5.5"/><text x="367" y="565">PP1</text></g>
<g id="rnapol2" class="n cx"><circle cx="242" cy="563" r="5.5"/><text x="242" y="565">RNA pol II</text></g>
<g id="ell2" class="n rn"><circle cx="213" cy="571" r="5.5"/><text x="213" y="573">ELL2</text></g>
<g id="rpb3" class="n dn"><circle cx="274" cy="570" r="5.5"/><text x="274" y="572">RPB3</text></g>
<g id="smg1" class="n rn"><circle cx="322" cy="572" r="5.5"/><text x="322" y="574">SMG1</text></g>
<g id="integrator" class="n cx"><circle cx="222" cy="584" r="5.5"/><text x="222" y="586">integrator</text></g>
<g id="cdk9" class="n cc"><circle cx="277" cy="591" r="5.5"/><text x="277" y="593">CDK9</text></g>
<g id="topoii" class="n cx"><circle cx="306" cy="587" r="5.5"/><text x="306" y="589">TOPOII</text></g>
<g id="ints11" class="n rn"><circle cx="233" cy="605" r="5.5"/><text x="233" y="607">INTS11</text></g>
<g id="atm" class="n dn L"><circle cx="392" cy="615" r="5.5"/><text x="392" y="617">ATM</text></g>
<g id="topbp1" class="n dn"><circle cx="275" cy="611" r="5.5"/><text x="275" y="613">TopBP1</text></g>
<g id="dnapolalphacomplex" class="n cx"><circle cx="242" cy="624" r="5.5"/><text x="242" y="626">DNA pol alpha complex</text></g>
<g id="atr" class="n dn"><circle cx="329" cy="639" r="5.5"/><text x="329" y="641">ATR</text></g>
<g id="hdac1" class="n dn"><circle cx="369" cy="652" r="5.5"/><text x="369" y="654">HDAC1</text></g>
<g id="hdac2" class="n dn L"><circle cx="279" cy="670" r="5.5"/><text x="279" y="672">HDAC2</text></g>
<g id="dnaprimase" class="n cx"><circle cx="195" cy="677" r="5.5"/><text x="195" y="679">DNA primase</text></g>
<g id="p58" class="n dn"><circle cx="235" cy="672" r="5.5"/><text x="235" y="674">p58</text></g>
<g id="dnapoldelta" class="n cx"><circle cx="253" cy="696" r="5.5"/><text x="253" y="698">DNA pol delta</text></g>
<g id="msin3" class="n cx"><circle cx="305" cy="694" r="5.5"/><text x="305" y="696">mSin3 co-repressor</text></g>
<g id="rad17" class="n dn"><circle cx="389" cy="694" r="5.5"/><text x="389" y="696">RAD17</text></g>
<g id="dcc1" class="n dn"><circle cx="422" cy="657" r="5.5"/><text x="422" y="659">DCC1</text></g>
<g id="ppp2r1a" class="n ps L"><circle cx="423" cy="636" r="5.5"/><text x="423" y="638">PPP2R1A</text></g>
<g id="rbbp4" class="n dn"><circle cx="328" cy="714" r="5.5"/><text x="328" y="716">RBBP-4</text></g>
<g id="mta2" class="n dn"><circle cx="368" cy="711" r="5.5"/><text x="368" y="713">MTA2</text></g>
<g id="p49" class="n dn"><circle cx="153" cy="699" r="5.5"/><text x="153" y="701">p49</text></g>
<g id="poldelta3" class="n dn"><circle cx="199" cy="705" r="5.5"/><text x="199" y="707">DNA pol delta 3</text></g>
<g id="poldeltap50" class="n dn"><circle cx="231" cy="714" r="5.5"/><text x="231" y="716">DNA pol delta p50</text></g>
<g id="p48" class="n dn"><circle cx="282" cy="713" r="5.5"/><text x="282" y="715">p48</text></g>
<g id="poldeltap125" class="n dn"><circle cx="266" cy="727" r="5.5"/><text x="265" y="729">DNA pol delta p125</text></g>
<g id="cohesin" class="n cx"><circle cx="467" cy="453" r="5.5"/><text x="467" y="455">cohesin</text></g>
<g id="kntc2" class="n cc L"><circle cx="499" cy="466" r="5.5"/><text x="500" y="468">KNTC2/ Hec1</text></g>
<g id="fen1" class="n dn L"><circle cx="449" cy="476" r="5.5"/><text x="449" y="478">FEN1</text></g>
<g id="dna2" class="n dn"><circle cx="423" cy="486" r="5.5"/><text x="423" y="488">Dna2</text></g>
<g id="gitpix" class="n cx"><circle cx="543" cy="477" r="5.5"/><text x="543" y="479">GIT/PIX</text></g>
<g id="mark3" class="n cc"><circle cx="569" cy="483" r="5.5"/><text x="569" y="485">MARK3</text></g>
<g id="tblr1" class="n pd"><circle cx="420" cy="502" r="5.5"/><text x="420" y="504">TBLR1</text></g>
<g id="wrn" class="n dn"><circle cx="473" cy="504" r="5.5"/><text x="473" y="506">Wrn</text></g>
<g id="pi3kinase" class="n cx"><circle cx="514" cy="499" r="5.5"/><text x="514" y="501">PI3 Kinase</text></g>
<g id="git2" class="n sg"><circle cx="569" cy="503" r="5.5"/><text x="569" y="505">GIT2</text></g>
<g id="ppp1r12a" class="n sg"><circle cx="409" cy="523" r="5.5"/><text x="409" y="525">PPP1R12A</text></g>
<g id="betapix" class="n sg"><circle cx="568" cy="526" r="5.5"/><text x="568" y="528">Beta-Pix</text></g>
<g id="ppp1cb" class="n sg L"><circle cx="416" cy="538" r="5.5"/><text x="416" y="540">PPP1CB</text></g>
<g id="git1" class="n sg"><circle cx="556" cy="544" r="5.5"/><text x="556" y="546">GIT1</text></g>
<g id="pi3ktype3" class="n sg"><circle cx="541" cy="558" r="5.5"/><text x="541" y="560">PI3-K type 3</text></g>
<g id="pp2a" class="n cx"><circle cx="429" cy="574" r="5.5"/><text x="429" y="576">PP2A</text></g>
<g id="dnaligase3" class="n dn"><circle cx="481" cy="587" r="5.5"/><text x="481" y="589">DNA ligase 3</text></g>
<g id="phers" class="n cx"><circle cx="533" cy="586" r="5.5"/><text x="533" y="588">PheRS</text></g>
<g id="phersbeta" class="n ps"><circle cx="560" cy="594" r="5.5"/><text x="560" y="596">PheRS beta</text></g>
<g id="eef2" class="n ps L"><circle cx="447" cy="595" r="5.5"/><text x="447" y="597">eEF-2</text></g>
<g id="smc3" class="n dn L"><circle cx="510" cy="614" r="5.5"/><text x="510" y="616">SMC3</text></g>
<g id="smc1" class="n dn L"><circle cx="457" cy="622" r="5.5"/><text x="457" y="624">SMC1</text></g>
<g id="phersalpha" class="n ps"><circle cx="544" cy="627" r="5.5"/><text x="544" y="629">PheRS alpha</text></g>
<g id="condensin" class="n cx"><circle cx="494" cy="643" r="5.5"/><text x="494" y="645">condensin</text></g>
<g id="rfc5" class="n dn L"><circle cx="449" cy="657" r="5.5"/><text x="449" y="659">RFC5</text></g>
<g id="smc4" class="n dn L"><circle cx="529" cy="659" r="5.5"/><text x="530" y="661">XCAP-C/SMC4</text></g>
<g id="rfc3" class="n dn L"><circle cx="473" cy="669" r="5.5"/><text x="473" y="671">RFC3</text></g>
<g id="smc2" class="n dn L"><circle cx="508" cy="674" r="5.5"/><text x="509" y="676">XCAP-E/SMC2</text></g>
<g id="rfc" class="n cx"><circle cx="438" cy="686" r="5.5"/><text x="438" y="688">RFC</text></g>
<g id="rfc4" class="n dn L"><circle cx="481" cy="687" r="5.5"/><text x="481" y="689">RFC4</text></g>
<g id="hunk1" class="n dn"><circle cx="468" cy="702" r="5.5"/><text x="468" y="704">HUNK1</text></g>
<g id="rfc2" class="n dn L"><circle cx="415" cy="713" r="5.5"/><text x="415" y="715">RFC2</text></g>
<g id="rfc1" class="n dn L"><circle cx="446" cy="713" r="5.5"/><text x="446" y="715">RFC1</text></g>
</g>
<g id="legend" class="lg">
<circle cx="39" cy="730" r="5.5" fill="#c4c4c4"/><text x="54" y="730">Complex</text>
<circle cx="39" cy="753" r="5.5" fill="#5d8fcf"/><text x="54" y="753">Cell cycle</text>
<circle cx="39" cy="766" r="5.5" fill="#6262aa"/><text x="54" y="766">Centrosomal protein</text>
<circle cx="39" cy="778" r="5.5" fill="#a8dcc0"/><text x="54" y="778">Cytoskeletal proteins, actin and intermediate</text><text x="54" y="788">filaments binding proteins</text>
<circle cx="39" cy="800" r="5.5" fill="#e2403f"/><text x="54" y="800">DNA replication /reparation/structure</text>
<circle cx="39" cy="812" r="5.5" fill="#f2c443"/><text x="54" y="812">MAPs</text>
<circle cx="39" cy="825" r="5.5" fill="#b8347a"/><text x="54" y="825">Metabolism</text>
<circle cx="39" cy="837" r="5.5" fill="#d39c8a"/><text x="54" y="837">Motors</text>
<circle cx="249" cy="753" r="5.5" fill="#bfe6ec"/><text x="264" y="753">Others</text>
<circle cx="249" cy="766" r="5.5" fill="#5cbf4e"/><text x="264" y="766">Protein degradation</text>
<circle cx="249" cy="778" r="5.5" fill="#b8b8de"/><text x="264" y="778">Protein synthesis and folding</text>
<circle cx="249" cy="790" r="5.5" fill="#1bb6b6"/><text x="264" y="790">RNA transcription/processing/structure</text>
<circle cx="249" cy="803" r="5.5" fill="#1d9e7c"/><text x="264" y="803">Signalling</text>
<circle cx="249" cy="815" r="5.5" fill="#137c8e"/><text x="264" y="815">Vesicular traffic</text>
<circle cx="249" cy="828" r="5.5" fill="#c6c6c6"/><text x="264" y="828">Unspecified proteins</text>
<path d="M436 753H469" stroke="#8a8a8a" stroke-width=".6"/><text x="482" y="753">Binding</text>
<path d="M436 766H469" stroke="#9a9a9a" stroke-width=".6" stroke-dasharray="2 1.5" marker-end="url(#arrL)"/><text x="482" y="766">Regulation</text>
<path d="M436 778H469" stroke="#9a9a9a" stroke-width=".6" stroke-dasharray="2 1.5" marker-end="url(#bar)"/><text x="482" y="778">Negative regulation</text>
<path d="M436 791H469" stroke="#9a9a9a" stroke-width=".6" stroke-dasharray="2 1.5" marker-end="url(#dot)"/><text x="482" y="791">Positive regulation</text>
<path d="M436 803H469" stroke="#8a8a8a" stroke-width=".6" marker-end="url(#dot)"/><text x="482" y="803">Phosphorylation</text>
<path d="M436 815H469" stroke="#e06060" stroke-width=".6" stroke-dasharray="2 1.5"/><text x="482" y="815">Hypothetically binding</text>
</g>
</svg>
